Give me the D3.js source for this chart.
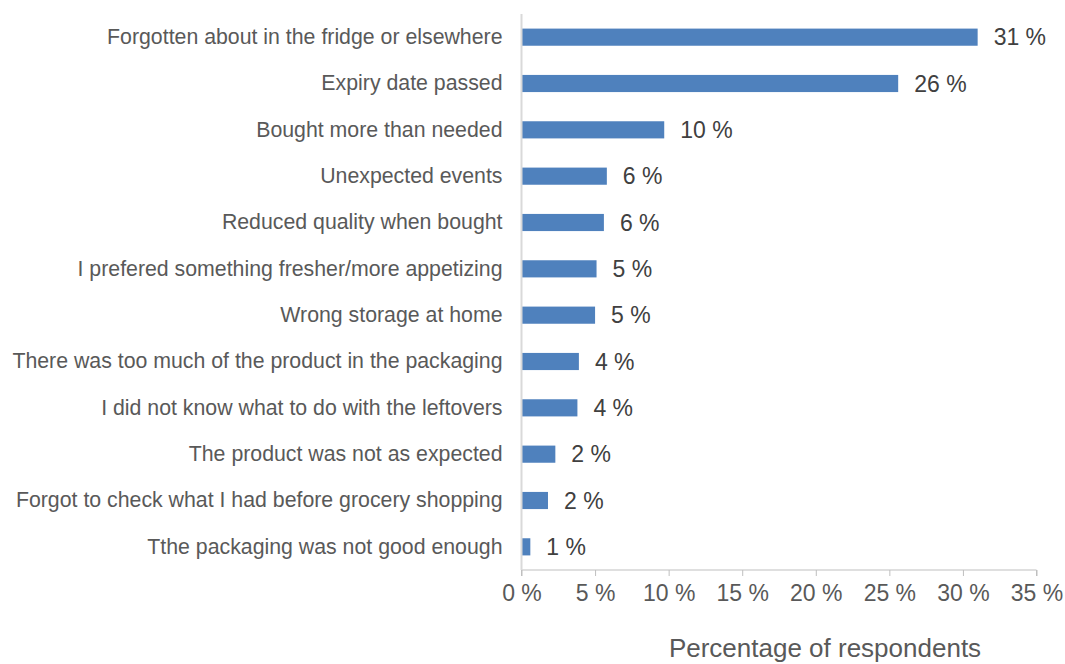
<!DOCTYPE html>
<html lang="en">
<head>
<meta charset="utf-8">
<title>Reasons for food waste</title>
<script src="https://cdn.jsdelivr.net/npm/d3@7"></script>
<style>
  body { margin: 0; background: #fff; }
  svg text { font-family: "Liberation Sans", Arial, sans-serif; }
  .cat text { fill: #595959; font-size: 21.3px; }
  .x_axis text { fill: #595959; font-size: 23px; }
  .x_axis path, .x_axis line { stroke: #bfbfbf; }
  .val { fill: #404040; font-size: 23px; }
</style>
</head>
<body>
<script>
// data
var reasons = [
  "Forgotten about in the fridge or elsewhere",
  "Expiry date passed",
  "Bought more than needed",
  "Unexpected events",
  "Reduced quality when bought",
  "I prefered something fresher/more appetizing",
  "Wrong storage at home",
  "There was too much of the product in the packaging",
  "I did not know what to do with the leftovers",
  "The product was not as expected",
  "Forgot to check what I had before grocery shopping",
  "Tthe packaging was not good enough"
];
var shares = [31.0, 25.6, 9.7, 5.8, 5.6, 5.1, 5.0, 3.9, 3.8, 2.3, 1.8, 0.6];
var xTicks = [0, 5, 10, 15, 20, 25, 30, 35];
var axisTitle = "Percentage of respondents";

var w = 1065, h = 664;
var plotLeft = 521.5, plotRight = 1036.5, plotTop = 14, plotBottom = 570;

var svg = d3.select("body").append("svg")
    .attr("width", w)
    .attr("height", h);

var x = d3.scaleLinear().domain([0, 35]).range([plotLeft, plotRight]);
var y = d3.scaleBand().domain(reasons).range([plotTop, plotBottom]).paddingInner(0.63).paddingOuter(0.315);

// bars
svg.selectAll("rect.bar")
  .data(shares)
  .enter()
  .append("rect")
  .attr("class", "bar")
  .attr("x", x(0))
  .attr("y", function(d, i) { return y(reasons[i]); })
  .attr("width", function(d) { return x(d) - x(0); })
  .attr("height", y.bandwidth())
  .attr("fill", "#4f81bd");

// value labels
svg.selectAll("text.val")
  .data(shares)
  .enter()
  .append("text")
  .attr("class", "val")
  .attr("x", function(d) { return x(d) + 16; })
  .attr("y", function(d, i) { return y(reasons[i]) + y.bandwidth() / 2; })
  .attr("dy", "0.36em")
  .text(function(d) { return Math.round(d) + " %"; });

// x axis
var xAxis = d3.axisBottom(x)
  .tickValues(xTicks)
  .tickSize(6)
  .tickPadding(9)
  .tickFormat(function(d) { return d + " %"; });

svg.append("g")
  .attr("class", "x_axis")
  .attr("transform", "translate(0," + plotBottom + ")")
  .call(xAxis)
  .call(function(g) { g.select(".domain").attr("d", "M" + plotLeft + ",6V0H" + plotRight + "V6"); });

// category axis (vertical gray line, no ticks)
var yAxis = d3.axisLeft(y).tickSize(0).tickPadding(19);
svg.append("g")
  .attr("class", "cat")
  .attr("transform", "translate(" + plotLeft + ",0)")
  .call(yAxis)
  .call(function(g) {
    g.select(".domain").attr("stroke", "#d9d9d9").attr("stroke-width", 2).attr("d", "M0," + plotTop + "V" + plotBottom);
  });

svg.append("text")
  .attr("x", 825)
  .attr("y", 657)
  .attr("text-anchor", "middle")
  .attr("fill", "#595959")
  .style("font-size", "26px")
  .text(axisTitle);
</script>
</body>
</html>
